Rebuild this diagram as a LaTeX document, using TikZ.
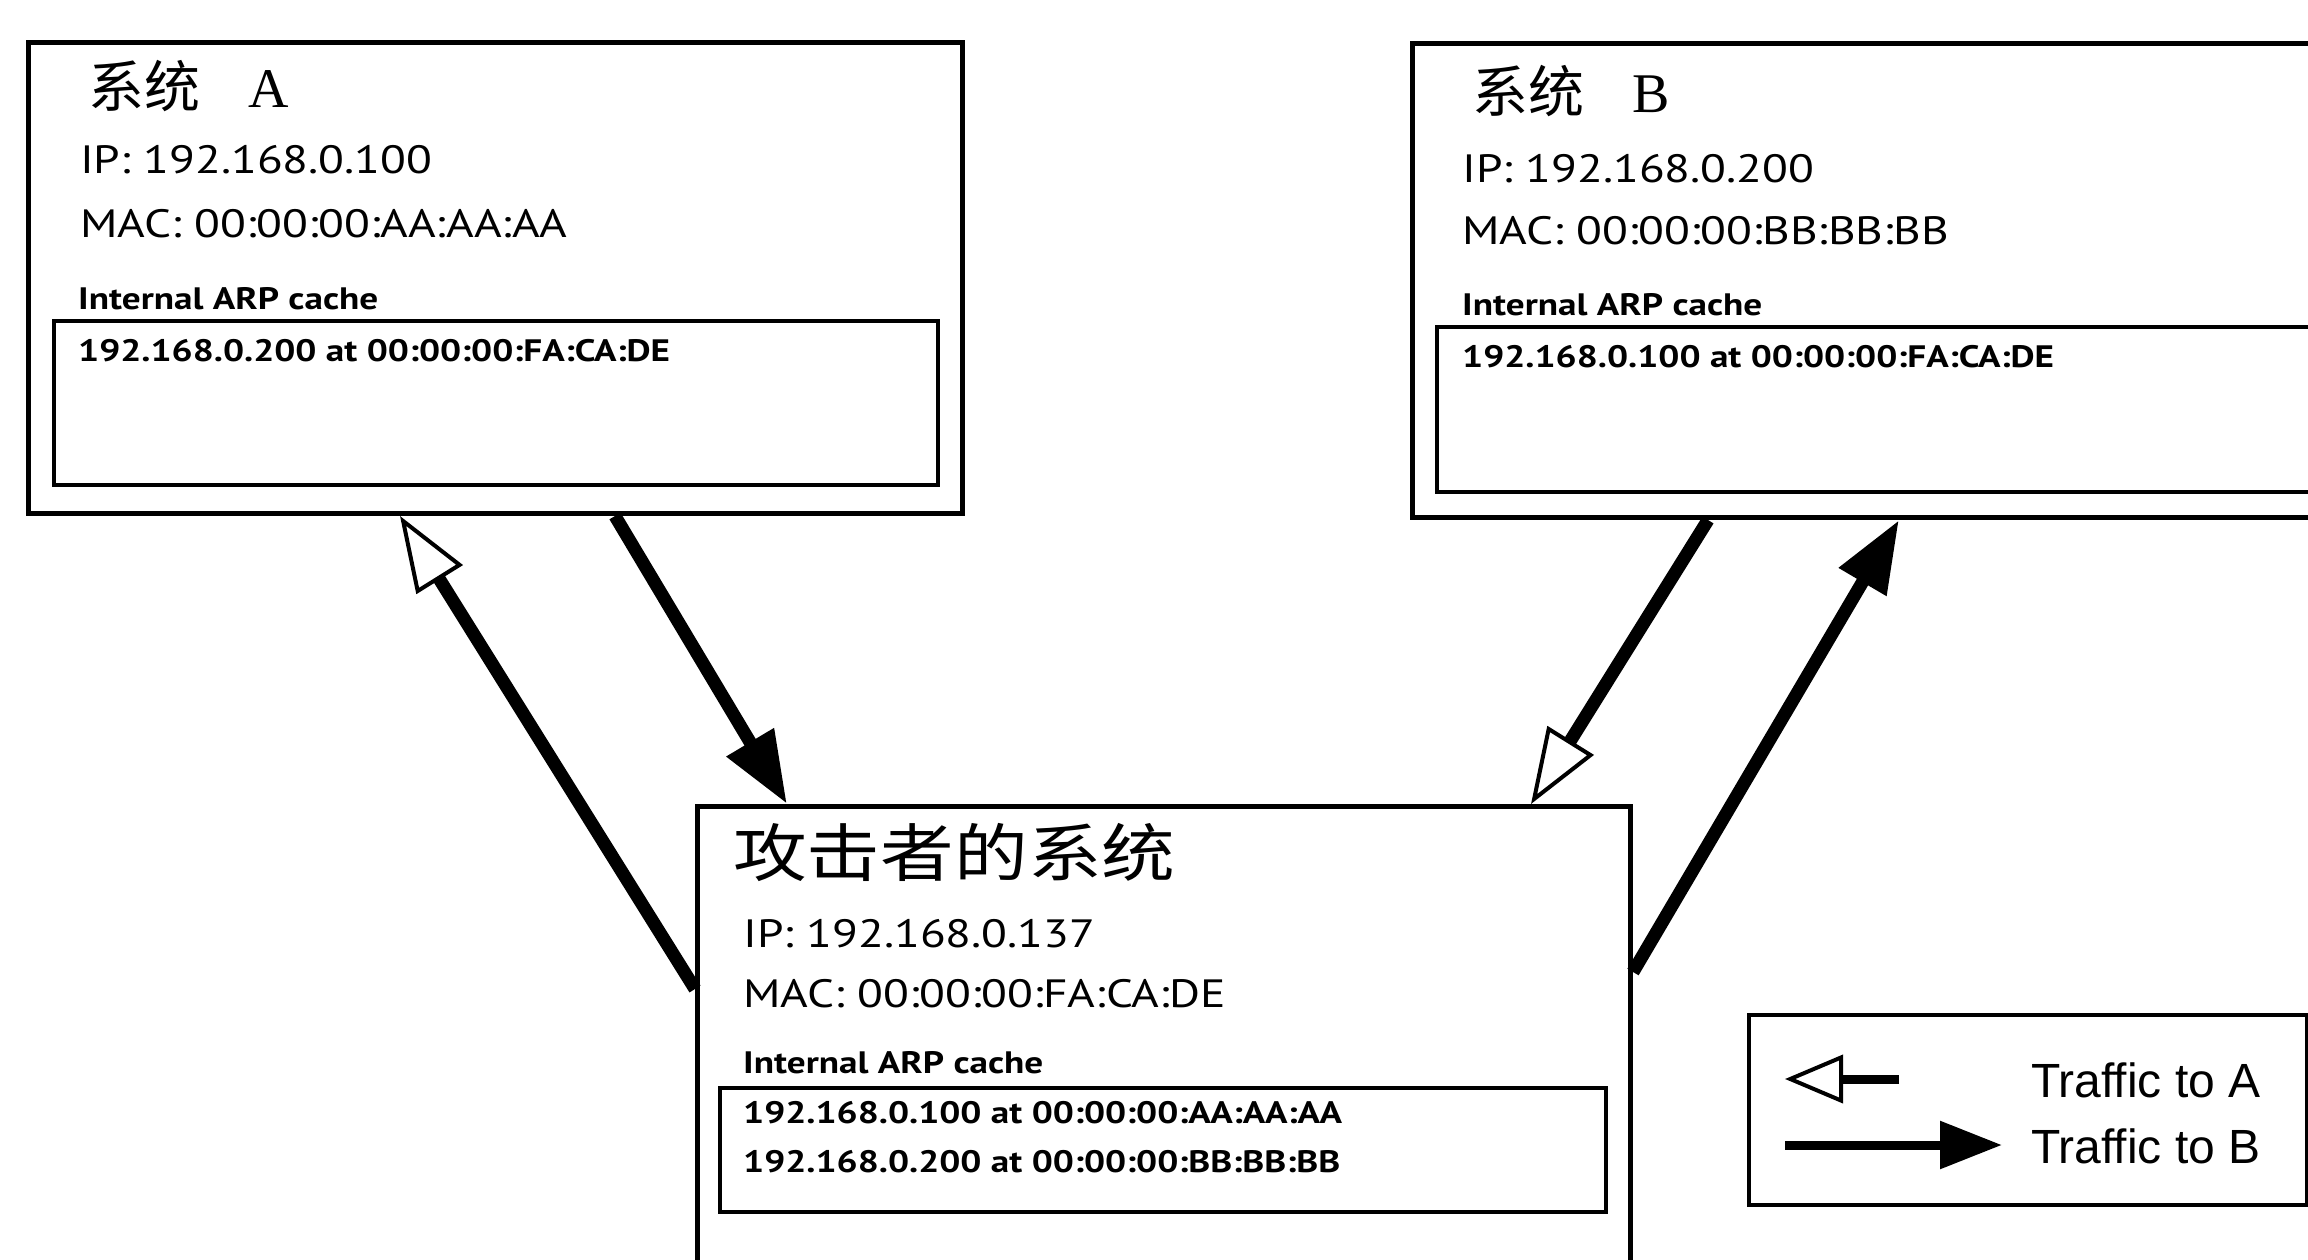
\documentclass[tikz,border=0pt]{standalone}
\usepackage{fontspec}
\setmainfont{PT Sans}
\newfontfamily\cjkf{Noto Sans CJK SC}
\newfontfamily\cjkwf[FakeStretch=1.17]{Noto Sans CJK SC}
\newfontfamily\bodyf[FakeStretch=1.2]{PT Sans}
\newfontfamily\legf{Liberation Sans}
\newfontfamily\serf{Liberation Serif}
\usetikzlibrary{arrows.meta,calc}
\newcommand\mytitle{\cjkf\fontsize{56}{64}\selectfont}
\newcommand\mybigtitle{\cjkwf\fontsize{63}{70}\selectfont}
\newcommand\mybody{\bodyf\fontsize{39.5}{46}\selectfont}
\newcommand\mybold{\bodyf\bfseries\fontsize{31}{36}\selectfont}
\newcommand\mylegend{\legf\fontsize{48}{56}\selectfont}
\begin{document}
\begin{tikzpicture}[x=1pt,y=-1pt,
  box/.style={draw, line width=5pt, rectangle, inner sep=0pt, anchor=north west},
  ibox/.style={draw, line width=3.5pt, rectangle, inner sep=0pt, anchor=north west},
  txt/.style={anchor=base west, inner sep=0pt},
  toA/.style={line width=13pt, -{Triangle[open, length=75pt, width=54pt, line width=4pt]}},
  toB/.style={line width=13pt, -{Triangle[length=72pt, width=52pt]}},
  ltoA/.style={line width=9pt, -{Triangle[open, length=58pt, width=48pt, line width=4pt]}},
  ltoB/.style={line width=9pt, -{Triangle[length=62pt, width=46pt]}}]
\useasboundingbox (0,0) rectangle (2308,1260);
\fill[white] (0,0) rectangle (2308,1260);
\begin{scope}
\clip (0,0) rectangle (2308,1260);
% boxes
\node[box, minimum width=934pt, minimum height=471pt] (A) at (26,40) {};
\node[ibox, minimum width=884pt, minimum height=164pt] (IA) at (52,319) {};
\node[box, minimum width=940pt, minimum height=474pt] (B) at (1410,41) {};
\node[ibox, minimum width=915pt, minimum height=165pt] (IB) at (1435,325) {};
\node[box, minimum width=933pt, minimum height=490pt] (M) at (695,804) {};
\node[ibox, minimum width=886pt, minimum height=124pt] (IM) at (718,1086) {};
\node[box, line width=4pt, minimum width=558pt, minimum height=190pt] (L) at (1747,1013) {};
% system A texts
\node[txt] (tA) at (88,108) {\mytitle 系统\hspace{48pt}{\serf A}};
\node[txt] (ipA) at (80,174) {\mybody IP: 192.168.0.100};
\node[txt] (macA) at (80,238) {\mybody MAC: 00:00:00:AA:AA:AA};
\node[txt] (cA) at (78,309) {\mybold Internal ARP cache};
\node[txt] (eA) at (78,361) {\mybold 192.168.0.200 at 00:00:00:FA:CA:DE};
% system B texts
\node[txt] (tB) at (1472,113) {\mytitle 系统\hspace{48pt}{\serf B}};
\node[txt] (ipB) at (1462,183) {\mybody IP: 192.168.0.200};
\node[txt] (macB) at (1462,244) {\mybody MAC: 00:00:00:BB:BB:BB};
\node[txt] (cB) at (1462,315) {\mybold Internal ARP cache};
\node[txt] (eB) at (1462,367) {\mybold 192.168.0.100 at 00:00:00:FA:CA:DE};
% attacker texts
\node[txt] (tM) at (733,876) {\mybigtitle 攻击者的系统};
\node[txt] (ipM) at (743,947) {\mybody IP: 192.168.0.137};
\node[txt] (macM) at (743,1007) {\mybody MAC: 00:00:00:FA:CA:DE};
\node[txt] (cM) at (743,1073) {\mybold Internal ARP cache};
\node[txt] (eM1) at (743,1123) {\mybold 192.168.0.100 at 00:00:00:AA:AA:AA};
\node[txt] (eM2) at (743,1172) {\mybold 192.168.0.200 at 00:00:00:BB:BB:BB};
% legend texts
\node[txt] (lA) at (2031,1097) {\mylegend Traffic to A};
\node[txt] (lB) at (2031,1163) {\mylegend Traffic to B};
% connectors
\draw[toA] ($(M.north west)+(0,185)$) -- ($(A.south west)+(374,0)$);
\draw[toB] ($(A.south west)+(589,0)$) -- ($(M.north west)+(92,0)$);
\draw[toA] ($(B.south west)+(298,0)$) -- ($(M.north west)+(836,0)$);
\draw[toB] ($(M.north east)+(0,168)$) -- ($(B.south west)+(489,0)$);
% legend arrows
\coordinate (la1) at ($(L.north west)+(152,66)$);
\coordinate (la2) at ($(L.north west)+(38,66)$);
\coordinate (lb1) at ($(L.north west)+(38,132)$);
\coordinate (lb2) at ($(L.north west)+(255,132)$);
\draw[ltoA] (la1) -- (la2);
\draw[ltoB] (lb1) -- (lb2);
\end{scope}
\end{tikzpicture}
\end{document}
